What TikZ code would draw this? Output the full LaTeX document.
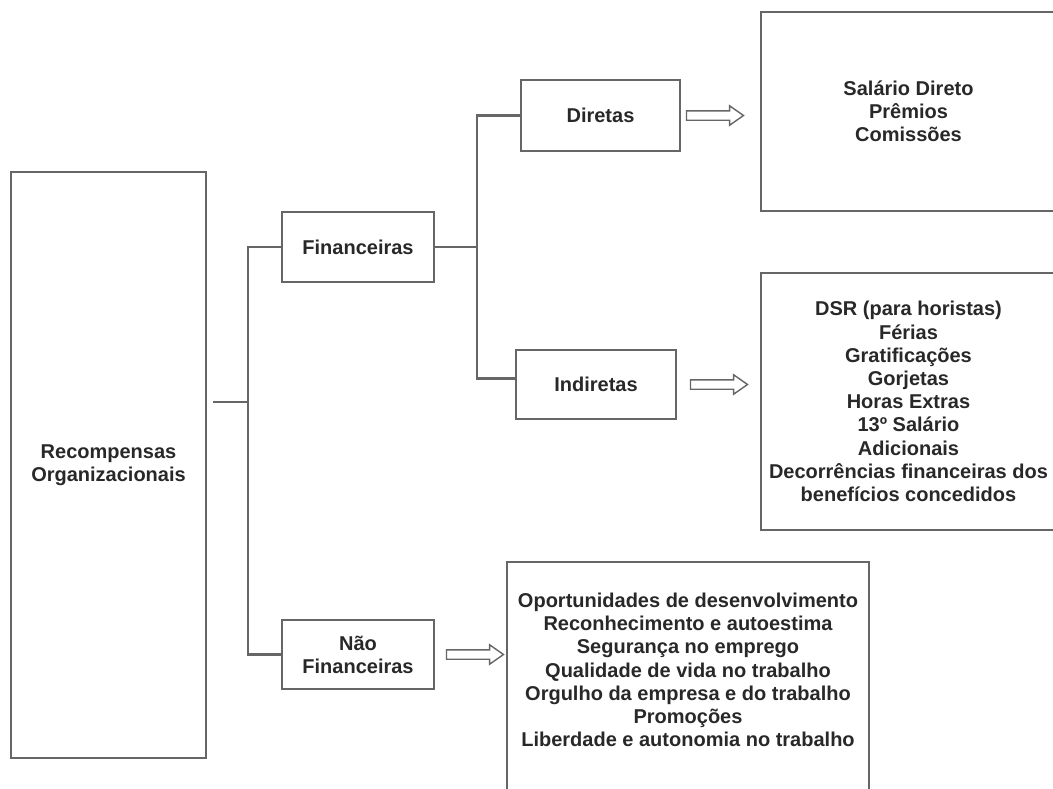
\documentclass[tikz,border=0pt]{standalone}
\usepackage{fontspec}
\setmainfont{Liberation Sans}
\usetikzlibrary{positioning, shapes.arrows}
\definecolor{linegray}{RGB}{102, 102, 102}
\definecolor{textgray}{RGB}{40, 40, 40}

\begin{document}
\begin{tikzpicture}[x=1pt, y=-1pt,
        font=\fontsize{20}{23.2}\selectfont\bfseries,
        box/.style={rectangle, draw=linegray, line width=1.6pt, text=textgray,
                    align=center, inner sep=0pt},
        branch/.style={draw=linegray, line width=2.6pt},
        hollow/.style={single arrow, draw=linegray, line width=1.4pt, fill=white,
                       minimum height=57pt, inner xsep=0pt, inner ysep=4pt,
                       single arrow head extend=5pt, single arrow tip angle=70}
    ]
        \useasboundingbox (0,0) rectangle (1053,788);
        \clip (0,0) rectangle (1053,788);

        \node[box, minimum width=195pt, minimum height=586pt] (rec) at (108.5,465) {Recompensas\\Organizacionais};
        \node[box, minimum width=152pt, minimum height=70pt] (fin) at (358,247) {Financeiras};
        \node[box, minimum width=152pt, minimum height=69pt] (nfin) at (358,654.5) {Não\\Financeiras};
        \node[box, minimum width=159pt, minimum height=71pt] (dir) at (600.5,115.5) {Diretas};
        \node[box, minimum width=160pt, minimum height=69pt] (ind) at (596,384.5) {Indiretas};

        \node[box, minimum width=295pt, minimum height=199pt] (sal) at (908.5,111.5)
            {Salário Direto\\Prêmios\\Comissões};
        \node[box, minimum width=295pt, minimum height=257pt] (ben) at (908.5,401.5)
            {DSR (para horistas)\\Férias\\Gratificações\\Gorjetas\\Horas Extras\\13º Salário\\Adicionais\\Decorrências financeiras dos\\benefícios concedidos};
        \node[box, minimum width=362pt, minimum height=240pt] (qual) at (688,682) {};
        \node[text=textgray, align=center, inner sep=0pt] (qualtxt) at (688,670)
            {Oportunidades de desenvolvimento\\Reconhecimento e autoestima\\Segurança no emprego\\Qualidade de vida no trabalho\\Orgulho da empresa e do trabalho\\Promoções\\Liberdade e autonomia no trabalho};

        % chaves
        \coordinate (stub) at (213,402);
        \coordinate (root) at (248,402);
        \coordinate (fork) at (477,247);
        \draw[branch] (stub) -- (root);
        \draw[branch] (fin.west) -| (root) |- (nfin.west);
        \draw[branch] (fin.east) -- (fork);
        \draw[branch] (dir.west) -| (fork) |- ([yshift=6pt]ind.west);

        \foreach \src/\gap in {dir/5pt, ind/13pt, nfin/11pt}
            \node[hollow, right=\gap of \src] (arr-\src) {};
    \end{tikzpicture}
\end{document}
